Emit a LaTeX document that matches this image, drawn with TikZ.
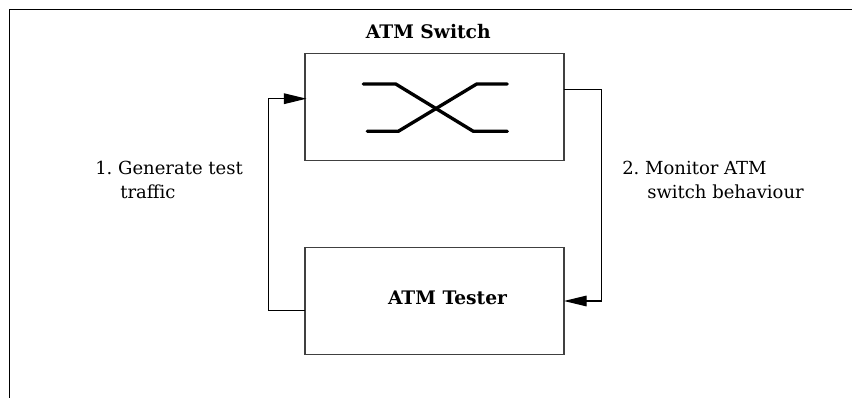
\documentclass[tikz,border=0pt]{standalone}
\usepackage{fontspec}
\setmainfont{DejaVu Serif}
\usetikzlibrary{arrows.meta}
\tikzset{
	boxnode/.style={draw=black!75, line width=1pt, inner sep=0pt, outer sep=0pt, minimum width=194.25pt, minimum height=80.25pt},
	titlenode/.style={inner sep=0pt, font=\fontsize{14}{18}\selectfont\bfseries},
	notenode/.style={inner sep=0pt, align=left, anchor=north west, font=\fontsize{13.5}{18.4}\selectfont\frenchspacing},
	wire/.style={line width=0.8pt},
	crossbar/.style={line width=2.5pt, line cap=round, line join=round}
}
\begin{document}
\begin{tikzpicture}[x=0.75pt, y=-0.75pt, >={Stealth[length=17pt, width=8pt, inset=0pt]}]
	\useasboundingbox (0, 0) rectangle (852, 398);
	\draw[wire] (852, 9.5) -- (9.5, 9.5) -- (9.5, 398);
	% the two boxes
	\node[boxnode] (switch) at (434.5, 107.2) {};
	\node[boxnode] (tester) at (434.5, 301) {};
	\node[titlenode] (switchtitle) at (428.3, 32) {ATM Switch};
	\node[titlenode] (testertitle) at (447.5, 298) {ATM Tester};
	% crossbar inside the switch
	\draw[crossbar] (363.3, 84) -- (395.7, 84) -- (473.3, 131.3) -- (507.3, 131.3);
	\draw[crossbar] (367.3, 131.3) -- (398.3, 131.3) -- (476.7, 84) -- (507.3, 84);
	% connectors
	\coordinate (testerout) at (305, 310.7);
	\coordinate (switchin) at (306.5, 98.7);
	\coordinate (switchout) at (564, 89.7);
	\draw[wire, ->] (testerout) -- (268.7, 310.7) -- (268.7, 98.7) -- (switchin);
	\draw[wire, ->] (switchout) -- (601.3, 89.7) -- (601.3, 301) -- (tester.east);
	% labels
	\node[notenode] (generate) at (95, 160.5) {1. Generate test\\\hspace*{18.75pt}traffic};
	\node[notenode] (monitor) at (622, 160.5) {2. Monitor ATM\\\hspace*{18.75pt}switch behaviour};
\end{tikzpicture}
\end{document}
